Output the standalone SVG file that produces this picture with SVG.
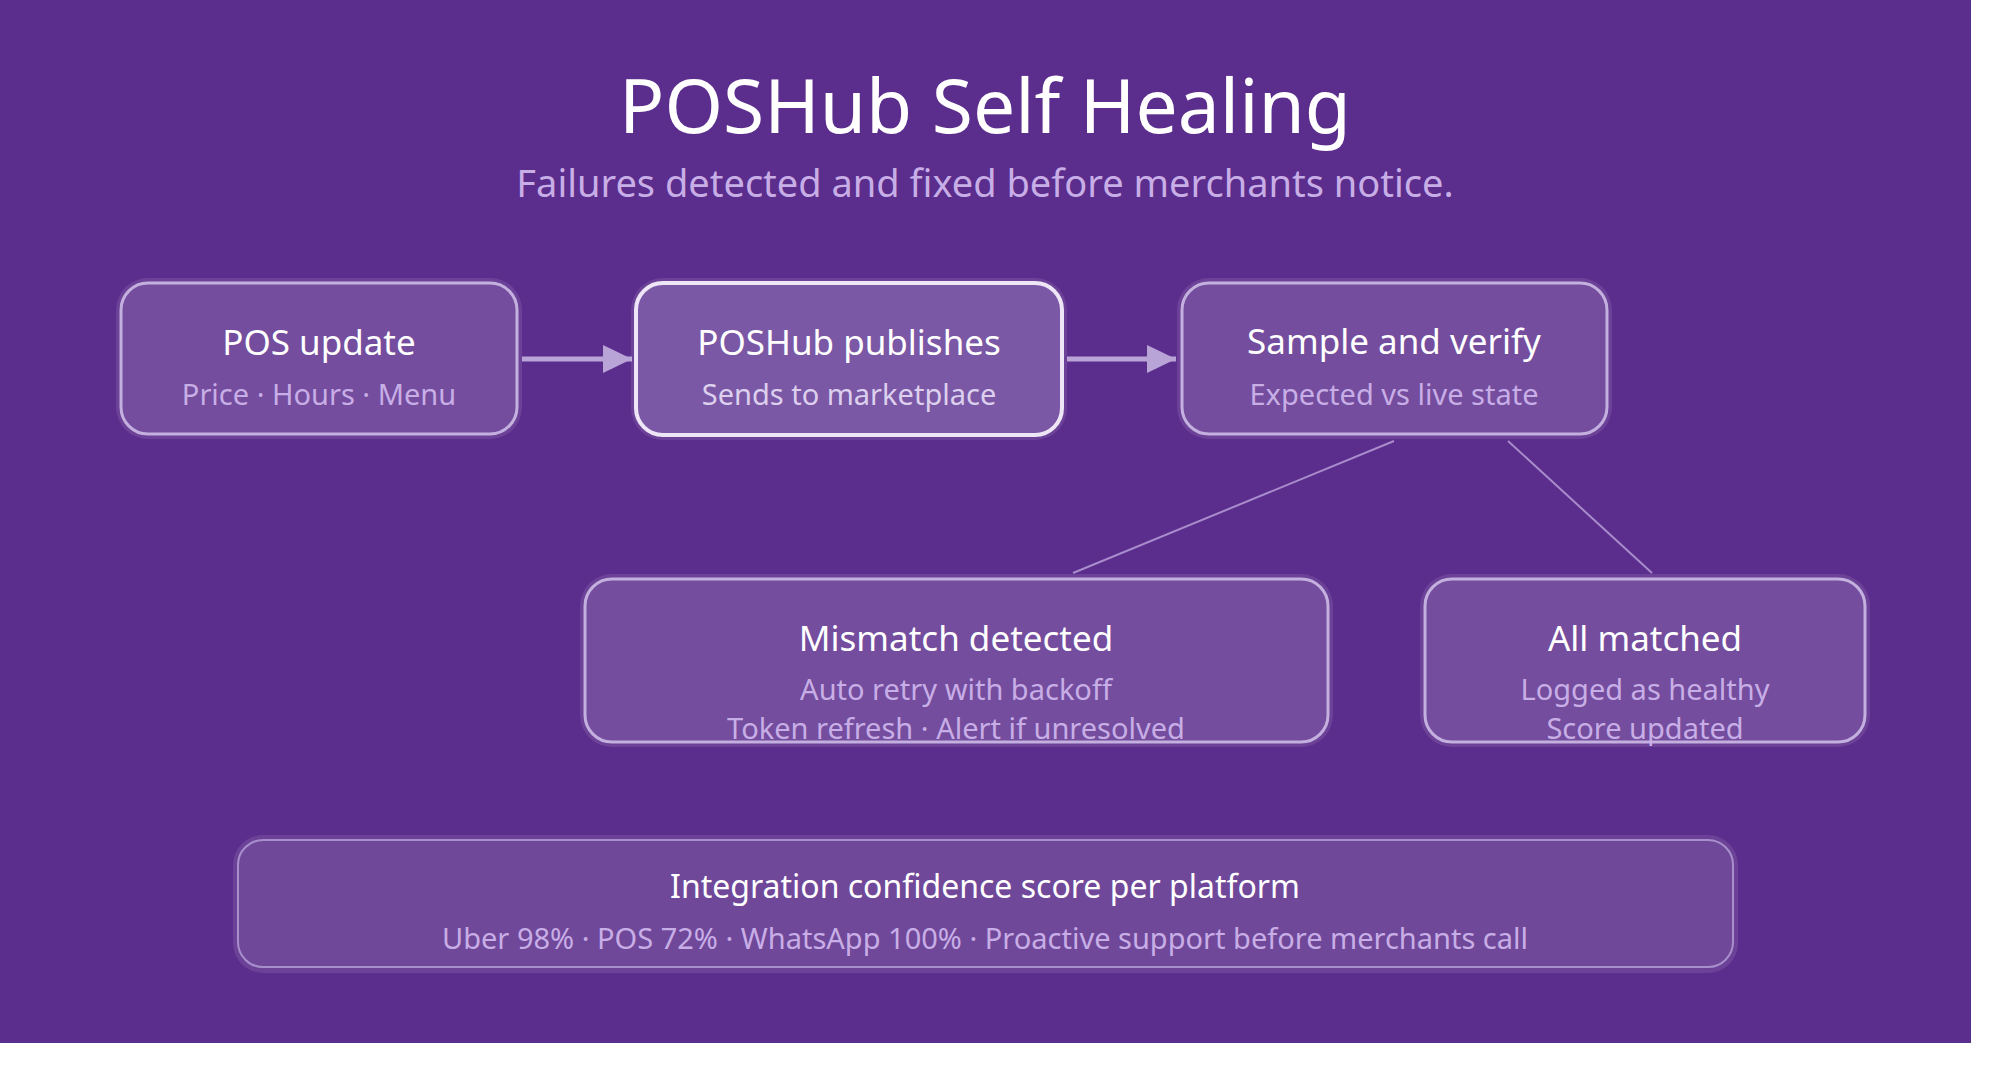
<svg xmlns="http://www.w3.org/2000/svg" width="2000" height="1072" viewBox="0 0 2000 1072">
<defs>
<style>
.halo{fill:#ffffff;fill-opacity:0.1}
.box{fill:#744d9e;stroke:#c3b0df;stroke-width:3}
.box2{fill:#7b58a5;stroke:#eee6f7;stroke-width:4}
.box6{fill:#70489a;stroke:#a88fcb;stroke-width:2}
.t{font-family:"Noto Sans","Open Sans",sans-serif;fill:#ffffff;text-anchor:middle}
.s{font-family:"Noto Sans","Open Sans",sans-serif;fill:#c8aee6;text-anchor:middle}
.s2{font-family:"Noto Sans","Open Sans",sans-serif;fill:#ddd0ee;text-anchor:middle}
.arrow{stroke:#b9a4d8;stroke-width:5;fill:none}
.link{stroke:#a98ccc;stroke-width:2;fill:none}
</style>
<marker id="ah" markerWidth="29" markerHeight="28" refX="29" refY="14" orient="auto" markerUnits="userSpaceOnUse">
<path d="M0,0 L29,14 L0,28 Z" fill="#b9a4d8"/>
</marker>
</defs>
<rect x="0" y="0" width="2000" height="1072" fill="#ffffff"/>
<rect x="0" y="0" width="1971" height="1043" fill="#5b2d8c"/>
<text class="t" x="985" y="133" font-size="75">POSHub Self Healing</text>
<text class="s" x="985" y="197" font-size="38">Failures detected and fixed before merchants notice.</text>
<g id="connectors">
<line class="arrow" x1="522" y1="359" x2="632" y2="359" marker-end="url(#ah)"/>
<line class="arrow" x1="1067" y1="359" x2="1176" y2="359" marker-end="url(#ah)"/>
<line class="link" x1="1394" y1="441" x2="1073" y2="573"/>
<line class="link" x1="1508" y1="441" x2="1652" y2="573"/>
</g>
<g id="node-pos-update">
<rect class="halo" x="116" y="278" width="406" height="161" rx="32"/>
<rect class="box" x="121" y="283" width="396" height="151" rx="27"/>
<text class="t" x="319" y="355" font-size="35">POS update</text>
<text class="s" x="319" y="405" font-size="29">Price · Hours · Menu</text>
</g>
<g id="node-poshub-publishes">
<rect class="halo" x="631" y="278" width="436" height="162" rx="32"/>
<rect class="box2" x="636" y="283" width="426" height="152" rx="27"/>
<text class="t" x="849" y="355" font-size="35">POSHub publishes</text>
<text class="s2" x="849" y="405" font-size="29">Sends to marketplace</text>
</g>
<g id="node-sample-verify">
<rect class="halo" x="1177" y="278" width="435" height="161" rx="32"/>
<rect class="box" x="1182" y="283" width="425" height="151" rx="27"/>
<text class="t" x="1394" y="354" font-size="35">Sample and verify</text>
<text class="s" x="1394" y="405" font-size="29">Expected vs live state</text>
</g>
<g id="node-mismatch">
<rect class="halo" x="580" y="574" width="753" height="173" rx="32"/>
<rect class="box" x="585" y="579" width="743" height="163" rx="27"/>
<text class="t" x="956" y="651" font-size="35">Mismatch detected</text>
<text class="s" x="956" y="700" font-size="29">Auto retry with backoff</text>
<text class="s" x="956" y="739" font-size="29">Token refresh · Alert if unresolved</text>
</g>
<g id="node-all-matched">
<rect class="halo" x="1420" y="574" width="450" height="173" rx="32"/>
<rect class="box" x="1425" y="579" width="440" height="163" rx="27"/>
<text class="t" x="1645" y="651" font-size="35">All matched</text>
<text class="s" x="1645" y="700" font-size="29">Logged as healthy</text>
<text class="s" x="1645" y="739" font-size="29">Score updated</text>
</g>
<g id="node-confidence">
<rect class="halo" x="233" y="835" width="1505" height="138" rx="30"/>
<rect class="box6" x="238" y="840" width="1495" height="127" rx="25"/>
<text class="t" x="985" y="898" font-size="32">Integration confidence score per platform</text>
<text class="s" x="985" y="949" font-size="29">Uber 98% · POS 72% · WhatsApp 100% · Proactive support before merchants call</text>
</g>
</svg>
